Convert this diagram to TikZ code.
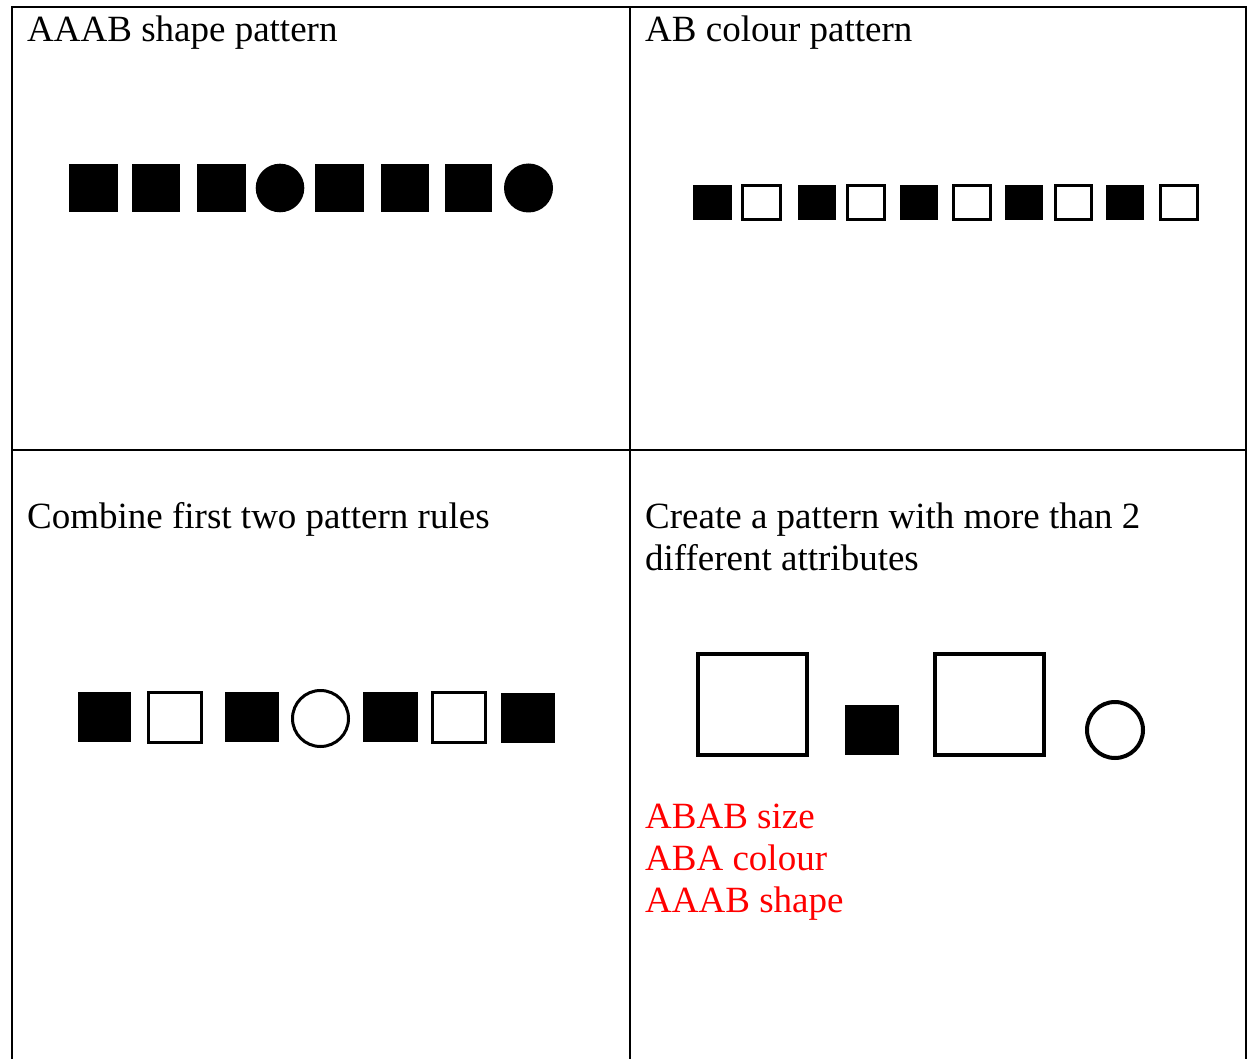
\documentclass[tikz,border=0pt]{standalone}
\usepackage{fontspec}
\setmainfont{Liberation Serif}
\definecolor{annot}{RGB}{255,0,0}
\begin{document}
\begin{tikzpicture}[x=1pt,y=-1pt,
  gridline/.style={line width=2pt,line join=miter},
  blk/.style={fill=black},
  opn/.style={draw=black,line width=3pt},
  opnbig/.style={draw=black,line width=4pt},
  lbl/.style={anchor=base west,inner sep=0pt,font=\fontsize{37}{42}\selectfont},
  redlbl/.style={lbl,text=annot}]
\useasboundingbox (0,0) rectangle (1248,1059);
\fill[white] (0,0) rectangle (1248,1059);
% table
\draw[gridline] (12,1059) -- (12,6.7) -- (1246,6.7) -- (1246,1059);
\draw[gridline] (630,6.7) -- (630,1059);
\draw[gridline] (12,450) -- (1246,450);
% texts
\node[lbl] (t1) at (27,42) {AAAB shape pattern};
\node[lbl] (t2) at (645,42) {AB colour pattern};
\node[lbl] (t3) at (27,528) {Combine first two pattern rules};
\node[lbl] (t4a) at (645,528) {Create a pattern with more than 2};
\node[lbl] (t4b) at (645,570) {different attributes};
\node[redlbl] (r1) at (645,828) {ABAB size};
\node[redlbl] (r2) at (645,870.3) {ABA colour};
\node[redlbl] (r3) at (645,912.6) {AAAB shape};
% panel 1: AAAB shape pattern
\fill[blk] (69,164) rectangle (118,212);
\fill[blk] (132,164) rectangle (180,212);
\fill[blk] (197,164) rectangle (246,212);
\fill[blk] (280,188) circle (24.3);
\fill[blk] (315,164) rectangle (364,212);
\fill[blk] (381,164) rectangle (429,212);
\fill[blk] (445,164) rectangle (492,212);
\fill[blk] (528.5,188) circle (24.5);
% panel 2: AB colour pattern
\fill[blk] (693,185) rectangle (732,220);
\draw[opn] (742.5,185.5) rectangle (780.5,219.5);
\fill[blk] (798,185) rectangle (836,220);
\draw[opn] (847.5,185.5) rectangle (884.5,219.5);
\fill[blk] (900,185) rectangle (938,220);
\draw[opn] (953.5,185.5) rectangle (990.5,219.5);
\fill[blk] (1005,185) rectangle (1043,220);
\draw[opn] (1055.5,185.5) rectangle (1091.5,219.5);
\fill[blk] (1106,185) rectangle (1144,220);
\draw[opn] (1160.5,185.5) rectangle (1197.5,219.5);
% panel 3: combined
\fill[blk] (78,692) rectangle (131,742);
\draw[opn] (148.5,692) rectangle (201.5,742);
\fill[blk] (225,692) rectangle (279,742);
\draw[opn] (320.5,718.5) circle (28);
\fill[blk] (363,692) rectangle (418,742);
\draw[opn] (432.5,692) rectangle (485.5,742);
\fill[blk] (501,693) rectangle (555,743);
% panel 4: more attributes
\draw[opnbig] (698,654) rectangle (807,755);
\fill[blk] (845,705) rectangle (899,755);
\draw[opnbig] (935,654) rectangle (1044,755);
\draw[opnbig] (1115,730) circle (28);
\end{tikzpicture}
\end{document}
